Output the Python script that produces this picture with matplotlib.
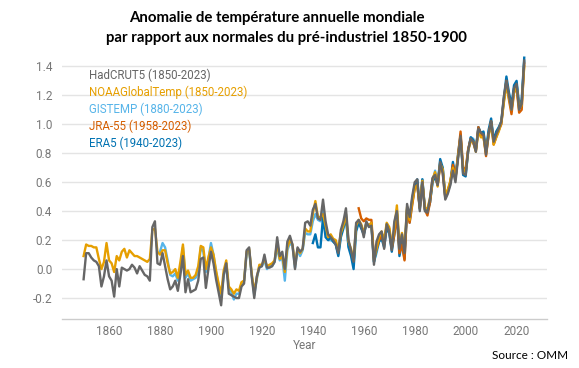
import matplotlib
matplotlib.use("Agg")
import matplotlib.pyplot as plt

# Annual global temperature anomaly relative to 1850-1900 (degC)
HADCRUT5_START = 1850
HADCRUT5 = [
    -0.07, 0.11, 0.11, 0.08, 0.06, 0.05, 0.02, -0.12, -0.05, 0.06,
    -0.05, -0.08, -0.19, 0.00, -0.12, 0.01, 0.00, -0.01, 0.00, 0.03,
    0.01, -0.03, 0.02, -0.01, -0.04, -0.05, -0.08, 0.29, 0.33, 0.04,
    0.03, 0.11, 0.02, -0.07, -0.14, -0.12, -0.08, -0.15, -0.04, 0.09,
    -0.16, -0.07, -0.16, -0.15, -0.14, -0.08, 0.07, 0.08, -0.13, 0.00,
    0.12, 0.04, -0.07, -0.16, -0.25, -0.04, 0.04, -0.17, -0.18, -0.19,
    -0.20, -0.20, -0.12, -0.10, 0.13, 0.15, -0.05, -0.20, -0.05, 0.01,
    0.02, 0.10, 0.01, 0.01, 0.02, 0.05, 0.22, 0.09, 0.12, 0.00,
    0.19, 0.23, 0.17, 0.00, 0.15, 0.12, 0.14, 0.32, 0.33, 0.30,
    0.41, 0.45, 0.35, 0.34, 0.48, 0.33, 0.24, 0.22, 0.20, 0.17,
    0.11, 0.27, 0.33, 0.42, 0.20, 0.13, 0.05, 0.32, 0.34, 0.30,
    0.22, 0.33, 0.29, 0.30, 0.03, 0.19, 0.24, 0.26, 0.14, 0.31,
    0.26, 0.13, 0.33, 0.40, 0.14, 0.24, 0.11, 0.45, 0.36, 0.50,
    0.60, 0.62, 0.40, 0.60, 0.40, 0.39, 0.49, 0.63, 0.65, 0.58,
    0.74, 0.66, 0.48, 0.52, 0.58, 0.68, 0.60, 0.76, 0.92, 0.66,
    0.65, 0.82, 0.90, 0.88, 0.81, 0.97, 0.94, 0.93, 0.79, 0.93,
    1.02, 0.88, 0.93, 0.97, 1.02, 1.19, 1.30, 1.20, 1.10, 1.25,
    1.28, 1.10, 1.14, 1.44,
]

NOAA_START = 1850
NOAA = [
    0.09, 0.17, 0.16, 0.16, 0.15, 0.15, 0.07, 0.00, 0.05, 0.18,
    0.06, 0.04, -0.02, 0.09, 0.06, 0.12, 0.14, 0.08, 0.13, 0.11,
    0.09, 0.09, 0.08, 0.07, 0.06, 0.05, 0.07, 0.27, 0.28, 0.12,
    0.10, 0.13, 0.13, 0.04, -0.03, -0.02, 0.00, -0.06, 0.05, 0.17,
    -0.04, -0.01, -0.06, -0.06, -0.04, 0.02, 0.16, 0.15, 0.00, 0.08,
    0.15, 0.10, -0.01, -0.10, -0.17, -0.01, 0.06, -0.12, -0.14, -0.17,
    -0.14, -0.15, -0.09, -0.08, 0.12, 0.14, -0.03, -0.16, -0.06, 0.03,
    0.03, 0.07, 0.02, 0.03, 0.04, 0.06, 0.18, 0.07, 0.09, -0.02,
    0.15, 0.20, 0.17, 0.03, 0.14, 0.11, 0.14, 0.28, 0.26, 0.26,
    0.38, 0.47, 0.36, 0.36, 0.38, 0.30, 0.22, 0.24, 0.21, 0.20,
    0.13, 0.25, 0.30, 0.38, 0.19, 0.14, 0.06, 0.30, 0.34, 0.31,
    0.25, 0.32, 0.30, 0.32, 0.06, 0.14, 0.22, 0.26, 0.20, 0.32,
    0.29, 0.16, 0.28, 0.44, 0.17, 0.25, 0.14, 0.43, 0.34, 0.46,
    0.56, 0.58, 0.43, 0.61, 0.42, 0.42, 0.49, 0.62, 0.67, 0.57,
    0.73, 0.69, 0.52, 0.55, 0.61, 0.70, 0.62, 0.78, 0.91, 0.69,
    0.67, 0.82, 0.88, 0.88, 0.81, 0.95, 0.91, 0.91, 0.80, 0.92,
    1.00, 0.86, 0.91, 0.95, 1.01, 1.15, 1.27, 1.18, 1.10, 1.22,
    1.26, 1.11, 1.13, 1.40,
]

GISTEMP_START = 1880
GISTEMP = [
    0.12, 0.18, 0.15, 0.06, -0.04, -0.05, -0.03, -0.08, 0.01, 0.15,
    -0.06, -0.03, -0.08, -0.07, -0.06, -0.02, 0.15, 0.12, -0.02, 0.07,
    0.18, 0.10, -0.02, -0.11, -0.19, -0.05, 0.04, -0.13, -0.16, -0.21,
    -0.17, -0.17, -0.10, -0.08, 0.10, 0.13, -0.04, -0.18, -0.07, 0.02,
    0.02, 0.06, 0.00, 0.02, 0.02, 0.05, 0.15, 0.06, 0.08, -0.08,
    0.13, 0.18, 0.16, 0.01, 0.13, 0.09, 0.13, 0.25, 0.24, 0.24,
    0.33, 0.38, 0.34, 0.33, 0.42, 0.30, 0.20, 0.20, 0.19, 0.17,
    0.10, 0.24, 0.30, 0.38, 0.16, 0.12, 0.03, 0.30, 0.33, 0.30,
    0.24, 0.32, 0.30, 0.32, 0.05, 0.11, 0.19, 0.24, 0.18, 0.31,
    0.27, 0.15, 0.27, 0.41, 0.15, 0.22, 0.11, 0.42, 0.32, 0.45,
    0.56, 0.60, 0.41, 0.62, 0.42, 0.39, 0.46, 0.60, 0.68, 0.58,
    0.73, 0.70, 0.50, 0.53, 0.59, 0.72, 0.63, 0.77, 0.90, 0.69,
    0.67, 0.82, 0.91, 0.90, 0.83, 0.98, 0.93, 0.94, 0.82, 0.94,
    1.02, 0.89, 0.93, 0.96, 1.01, 1.16, 1.29, 1.19, 1.12, 1.24,
    1.28, 1.13, 1.15, 1.43,
]

JRA55_START = 1958
JRA55 = [
    0.42, 0.35,
    0.33, 0.35, 0.34, 0.34, 0.08, 0.14, 0.20, 0.23, 0.17, 0.30,
    0.28, 0.14, 0.24, 0.38, 0.11, 0.17, 0.06, 0.41, 0.32, 0.44,
    0.56, 0.58, 0.42, 0.60, 0.41, 0.37, 0.46, 0.62, 0.66, 0.58,
    0.72, 0.67, 0.49, 0.54, 0.60, 0.72, 0.63, 0.78, 0.95, 0.70,
    0.69, 0.83, 0.90, 0.87, 0.82, 0.98, 0.93, 0.92, 0.78, 0.93,
    1.02, 0.86, 0.91, 0.96, 1.00, 1.17, 1.30, 1.17, 1.07, 1.22,
    1.25, 1.08, 1.10, 1.42,
]

ERA5_START = 1940
ERA5 = [
    0.18, 0.24, 0.15, 0.15, 0.36, 0.22, 0.20, 0.22, 0.19, 0.17,
    0.09, 0.22, 0.28, 0.36, 0.15, 0.09, 0.00, 0.26, 0.32, 0.28,
    0.24, 0.31, 0.30, 0.31, 0.05, 0.13, 0.19, 0.21, 0.15, 0.28,
    0.25, 0.12, 0.24, 0.38, 0.09, 0.18, 0.07, 0.41, 0.34, 0.48,
    0.58, 0.62, 0.42, 0.62, 0.41, 0.40, 0.46, 0.60, 0.64, 0.58,
    0.76, 0.70, 0.50, 0.54, 0.60, 0.74, 0.63, 0.79, 0.93, 0.65,
    0.64, 0.82, 0.91, 0.89, 0.82, 0.98, 0.94, 0.95, 0.81, 0.96,
    1.04, 0.89, 0.95, 0.98, 1.02, 1.18, 1.33, 1.22, 1.13, 1.27,
    1.30, 1.13, 1.17, 1.46,
]

# drawing order: first entry ends up at the bottom
SERIES = [
    ("GISTEMP (1880-2023)", GISTEMP_START, GISTEMP, "#56B4E9"),
    ("ERA5 (1940-2023)", ERA5_START, ERA5, "#0072B2"),
    ("JRA-55 (1958-2023)", JRA55_START, JRA55, "#D55E00"),
    ("NOAAGlobalTemp (1850-2023)", NOAA_START, NOAA, "#E69F00"),
    ("HadCRUT5 (1850-2023)", HADCRUT5_START, HADCRUT5, "#666666"),
]
LEGEND_ORDER = [
    "HadCRUT5 (1850-2023)",
    "NOAAGlobalTemp (1850-2023)",
    "GISTEMP (1880-2023)",
    "JRA-55 (1958-2023)",
    "ERA5 (1940-2023)",
]

X_TICKS = [1860, 1880, 1900, 1920, 1940, 1960, 1980, 2000, 2020]
Y_TICKS = [-0.2, 0.0, 0.2, 0.4, 0.6, 0.8, 1.0, 1.2, 1.4]

TEXT_FONT = ["Roboto", "DejaVu Sans"]
TITLE_FONT = ["Lato", "DejaVu Sans"]


def main() -> None:
    fig = plt.figure(figsize=(5.79, 3.68), dpi=100)
    fig.patch.set_facecolor("white")
    ax = fig.add_axes([0.107, 0.133, 0.838, 0.726])

    lines = {}
    for label, start, values, color in SERIES:
        years = list(range(start, start + len(values)))
        (line,) = ax.plot(years, values, color=color, linewidth=1.7, label=label,
                          solid_joinstyle="round")
        lines[label] = line

    ax.set_xlim(1841.5, 2032)
    ax.set_ylim(-0.345, 1.5)
    ax.set_xticks(X_TICKS)
    ax.set_yticks(Y_TICKS)
    ax.set_yticklabels([f"{v:.1f}" for v in Y_TICKS])
    ax.tick_params(axis="both", length=0, labelsize=8.5, labelcolor="#777777")
    ax.tick_params(axis="y", pad=7)
    ax.tick_params(axis="x", pad=4)
    for lab in ax.get_xticklabels() + ax.get_yticklabels():
        lab.set_family(TEXT_FONT)

    ax.grid(axis="y", color="#e4e4e4", linewidth=1.0)
    ax.set_axisbelow(True)
    for spine in ("top", "right", "left"):
        ax.spines[spine].set_visible(False)
    ax.spines["bottom"].set_color("#cccccc")
    ax.spines["bottom"].set_linewidth(1.0)

    ax.set_xlabel("Year", fontsize=8.5, color="#777777", family=TEXT_FONT, labelpad=1)

    handles = [lines[name] for name in LEGEND_ORDER]
    leg = ax.legend(handles, LEGEND_ORDER, loc="upper left", bbox_to_anchor=(0.035, 0.975),
                    frameon=False, handlelength=0, handletextpad=0, labelspacing=0.3,
                    prop={"family": TEXT_FONT, "size": 8.3})
    for text, handle in zip(leg.get_texts(), handles):
        text.set_color(handle.get_color())
    for handle in leg.legend_handles:
        handle.set_visible(False)

    fig.text(0.478, 0.951, "Anomalie de température annuelle mondiale", ha="center", va="center",
             fontsize=10.8, weight="bold", family=TITLE_FONT, color="black")
    fig.text(0.494, 0.897, "par rapport aux normales du pré-industriel 1850-1900", ha="center",
             va="center", fontsize=10.8, weight="bold", family=TITLE_FONT, color="black")
    fig.text(0.982, 0.035, "Source : OMM", ha="right", va="center", fontsize=8.5,
             family=TITLE_FONT, color="black")

    fig.savefig("out.png", dpi=100)
    plt.close(fig)


if __name__ == "__main__":
    main()
